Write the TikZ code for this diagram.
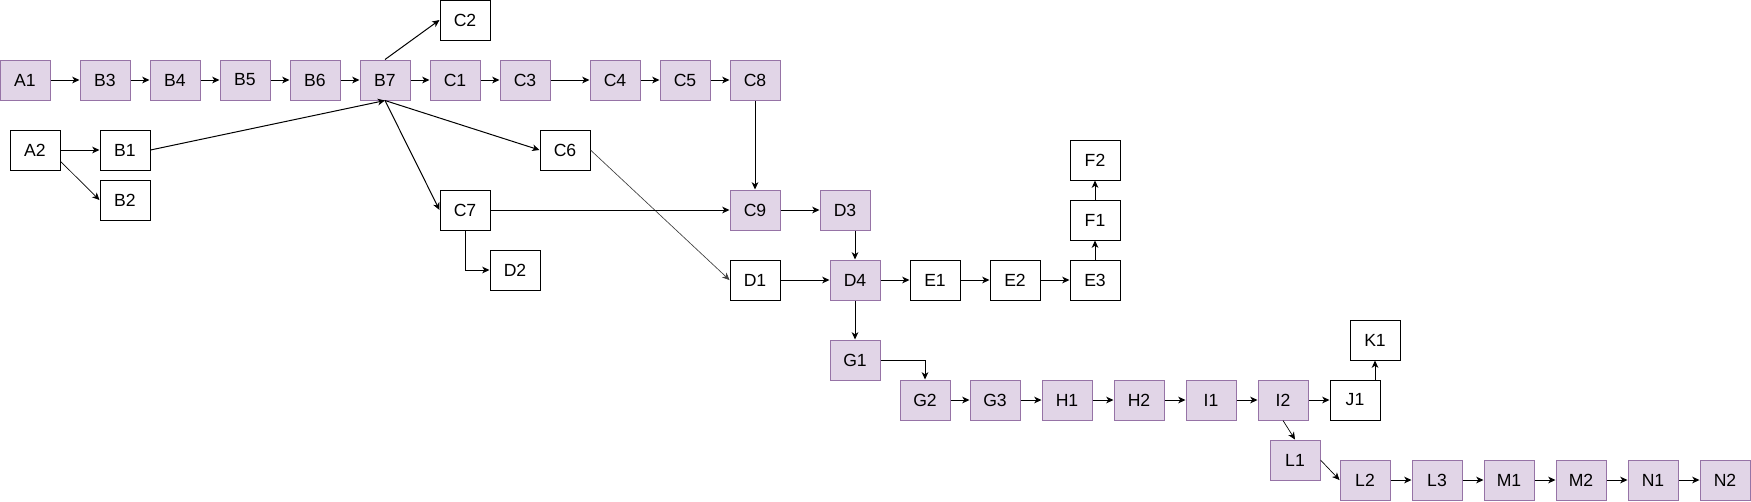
\documentclass[tikz,border=0pt]{standalone}
\usepackage{fontspec}
\setmainfont{Liberation Sans}
\usetikzlibrary{arrows.meta}
\definecolor{purpfill}{HTML}{E1D5E7}
\definecolor{purpdraw}{HTML}{9673A6}
\tikzset{
  box/.style={draw=black, line width=0.75pt, fill=white, minimum width=37.5pt, minimum height=30pt, inner sep=0pt, font=\fontsize{13.2pt}{15pt}\selectfont},
  pbox/.style={box, draw=purpdraw, fill=purpfill},
  arr/.style={line width=0.75pt, -{Stealth[length=5.5pt, width=5pt, inset=1.6pt]}},
  thinarr/.style={arr, line width=0.5pt}
}
\begin{document}
\begin{tikzpicture}[x=0.75pt, y=-0.75pt]
\useasboundingbox (0,0) rectangle (1751,501);
% row 1
\node[pbox] (A1) at (25,80) {A1};
\node[pbox] (B3) at (105,80) {B3};
\node[pbox] (B4) at (175,80) {B4};
\node[pbox] (B5) at (245,80) {B5};
\node[pbox] (B6) at (315,80) {B6};
\node[pbox] (B7) at (385,80) {B7};
\node[pbox] (C1) at (455,80) {C1};
\node[pbox] (C3) at (525,80) {C3};
\node[pbox] (C4) at (615,80) {C4};
\node[pbox] (C5) at (685,80) {C5};
\node[pbox] (C8) at (755,80) {C8};
\node[box] (C2) at (465,20) {C2};
% left
\node[box] (A2) at (35,150) {A2};
\node[box] (B1) at (125,150) {B1};
\node[box] (B2) at (125,200) {B2};
\node[box] (C6) at (565,150) {C6};
\node[box] (C7) at (465,210) {C7};
\node[box] (D2) at (515,270) {D2};
% middle
\node[pbox] (C9) at (755,210) {C9};
\node[pbox] (D3) at (845,210) {D3};
\node[box] (D1) at (755,280) {D1};
\node[pbox] (D4) at (855,280) {D4};
\node[box] (E1) at (935,280) {E1};
\node[box] (E2) at (1015,280) {E2};
\node[box] (E3) at (1095,280) {E3};
\node[box] (F1) at (1095,220) {F1};
\node[box] (F2) at (1095,160) {F2};
\node[pbox] (G1) at (855,360) {G1};
% lower row
\node[pbox] (G2) at (925,400) {G2};
\node[pbox] (G3) at (995,400) {G3};
\node[pbox] (H1) at (1067,400) {H1};
\node[pbox] (H2) at (1139,400) {H2};
\node[pbox] (I1) at (1211,400) {I1};
\node[pbox] (I2) at (1283,400) {I2};
\node[box] (J1) at (1355,400) {J1};
\node[box] (K1) at (1375,340) {K1};
\node[pbox] (L1) at (1295,460) {L1};
\node[pbox] (L2) at (1365,480) {L2};
\node[pbox] (L3) at (1437,480) {L3};
\node[pbox] (M1) at (1509,480) {M1};
\node[pbox] (M2) at (1581,480) {M2};
\node[pbox] (N1) at (1653,480) {N1};
\node[pbox] (N2) at (1725,480) {N2};
% edges row 1
\draw[arr] (A1) -- (B3);
\draw[arr] (B3) -- (B4);
\draw[arr] (B4) -- (B5);
\draw[arr] (B5) -- (B6);
\draw[arr] (B6) -- (B7);
\draw[arr] (B7) -- (C1);
\draw[arr] (C1) -- (C3);
\draw[arr] (C3) -- (C4);
\draw[arr] (C4) -- (C5);
\draw[arr] (C5) -- (C8);
\draw[arr] (B7.north) -- (C2.west);
% left
\draw[arr] (A2) -- (B1);
\draw[thinarr] (A2.-24) -- (B2.west);
\draw[arr] (B1.east) -- (B7.south);
\draw[arr] (B7.south) -- (C6.west);
\draw[arr] (B7.south) -- (C7.west);
\draw[thinarr, draw=black!75] (C6.east) -- (D1.west);
\draw[arr] (C7) -- (C9);
\draw[arr] (C7.south) |- (D2.west);
% middle
\draw[arr] (C8) -- (C9);
\draw[arr] (C9) -- (D3);
\draw[arr] (D3.south -| D4.north) -- (D4.north);
\draw[arr] (D1) -- (D4);
\draw[arr] (D4) -- (E1);
\draw[arr] (E1) -- (E2);
\draw[arr] (E2) -- (E3);
\draw[arr] (E3) -- (F1);
\draw[arr] (F1) -- (F2);
\draw[arr] (D4) -- (G1);
\draw[arr] (G1.east) -| (G2.north);
% lower
\draw[arr] (G2) -- (G3);
\draw[arr] (G3) -- (H1);
\draw[arr] (H1) -- (H2);
\draw[arr] (H2) -- (I1);
\draw[arr] (I1) -- (I2);
\draw[arr] (I2) -- (J1);
\draw[arr] (J1.north -| K1.south) -- (K1.south);
\draw[thinarr] (I2.south) -- (L1.north);
\draw[thinarr] (L1.east) -- (L2.west);
\draw[arr] (L2) -- (L3);
\draw[arr] (L3) -- (M1);
\draw[arr] (M1) -- (M2);
\draw[arr] (M2) -- (N1);
\draw[arr] (N1) -- (N2);
\end{tikzpicture}
\end{document}
